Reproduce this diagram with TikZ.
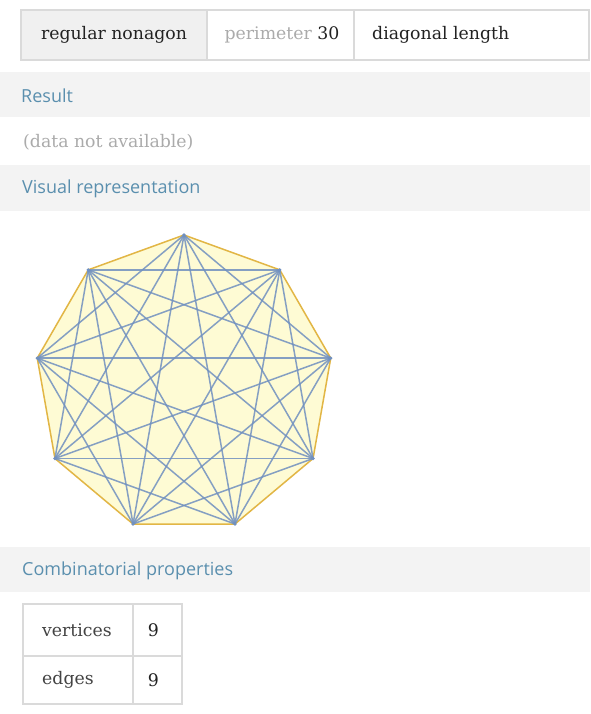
\documentclass[tikz,border=0pt]{standalone}
\usepackage{fontspec}
\setmainfont{DejaVu Serif}
\newfontfamily\uisans{Open Sans}
\usetikzlibrary{positioning}

\definecolor{bandgray}{HTML}{F3F3F3}
\definecolor{cellgray}{HTML}{F0F0F0}
\definecolor{rulegray}{HTML}{DADADA}
\definecolor{labblue}{HTML}{5A8FAE}
\definecolor{softgray}{HTML}{ABABAB}
\definecolor{inkblack}{HTML}{222222}
\definecolor{nonafill}{HTML}{FEFBD4}
\definecolor{nonaedge}{HTML}{E2B645}
\definecolor{diagblue}{HTML}{7090C0}

\tikzset{
  band/.style={fill=bandgray, draw=none},
  rulebox/.style={draw=rulegray, line width=1.2pt},
  headlab/.style={font=\uisans\fontsize{18}{20}\selectfont, text=labblue, anchor=west, inner sep=0pt},
  celltext/.style={font=\fontsize{17.3}{20}\selectfont, text=inkblack, inner sep=0pt},
  greytext/.style={font=\fontsize{17.3}{20}\selectfont, text=softgray, inner sep=0pt},
  diag/.style={draw=diagblue, line width=1.5pt, opacity=0.85},
  rim/.style={draw=nonaedge, line width=1.5pt, fill=nonafill},
}

\begin{document}
\begin{tikzpicture}[x=1pt, y=-1pt]
        \useasboundingbox[fill=white] (0,0) rectangle (590,714);

        % top query row
        \fill[cellgray] (21,10) rectangle (207,60);
        \draw[rulebox] (21,10) rectangle (589,60);
        \draw[rulebox] (207,10) -- (207,60);
        \draw[rulebox] (354,10) -- (354,60);
        \node[celltext] (shape) at (114,35) {regular nonagon};
        \node[celltext] (perim) at (282,35) {\textcolor{softgray}{perimeter} 30};
        \node[celltext, anchor=west] (diaglen) at (372,35) {diagonal length};

        % result
        \fill[band] (0,72) rectangle (590,117);
        \node[headlab] (result) at (21,96) {Result};
        \node[greytext, anchor=west] (nodata) at (23,142) {(data not available)};

        % visual representation
        \fill[band] (0,165) rectangle (590,211);
        \node[headlab] (visual) at (22,189) {Visual representation};

        \begin{scope}[shift={(184,384)}]
          \foreach \i in {0,...,8}
            \coordinate (v\i) at ({-90+40*\i}:149);
          \draw[rim] (v0) -- (v1) -- (v2) -- (v3) -- (v4) -- (v5) -- (v6) -- (v7) -- (v8) -- cycle;
          \foreach \i in {0,...,8}
            \foreach \d in {2,3,4} {
              \pgfmathtruncatemacro\k{mod(\i+\d,9)}
              \draw[diag] (v\i) -- (v\k);
            }
          \foreach \i in {0,...,8}
            \fill[diagblue] (v\i) circle (1.8);
        \end{scope}

        % combinatorial properties
        \fill[band] (0,547) rectangle (590,592);
        \node[headlab] (combi) at (22,571) {Combinatorial properties};
        \draw[rulebox] (23,604) rectangle (182,704);
        \draw[rulebox] (133,604) -- (133,704);
        \draw[rulebox] (23,656) -- (182,656);
        \node[celltext, text=inkblack!85, anchor=west] (vert) at (42,630) {vertices};
        \node[celltext] (vertnum) at (153.5,630) {9};
        \node[celltext, text=inkblack!85, anchor=west] (edg) at (42,680) {edges};
        \node[celltext] (edgnum) at (153.5,680) {9};
    \end{tikzpicture}
\end{document}
